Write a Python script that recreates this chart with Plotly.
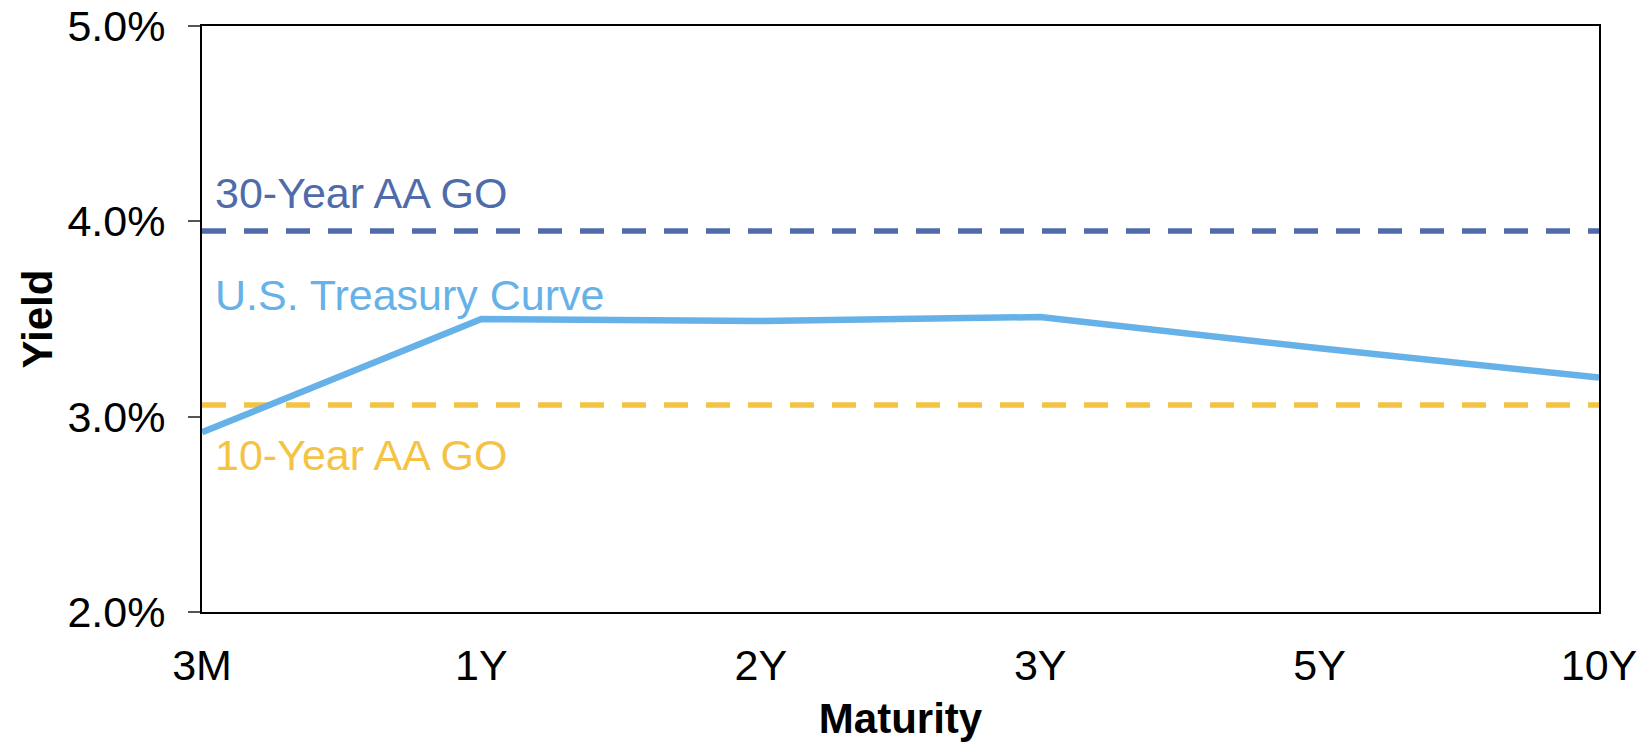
import plotly.graph_objects as go

# Maturity buckets and yields (%)
maturities = ["3M", "1Y", "2Y", "3Y", "5Y", "10Y"]
treasury_yields = [2.92, 3.50, 3.49, 3.51, 3.35, 3.20]
go_30yr_aa = 3.95
go_10yr_aa = 3.06

y_ticks = [2.0, 3.0, 4.0, 5.0]
y_tick_labels = ["2.0%", "3.0%", "4.0%", "5.0%"]

FONT = "Liberation Sans, Arial, sans-serif"
DARK_BLUE = "#4F6BAA"
LIGHT_BLUE = "#66B2E8"
GOLD = "#F5C343"

fig = go.Figure()

fig.add_trace(go.Scatter(
    x=maturities, y=[go_30yr_aa] * len(maturities), mode="lines",
    line=dict(color=DARK_BLUE, width=5.5, dash="24px,18px"),
    name="30-Year AA GO", hoverinfo="skip",
))
fig.add_trace(go.Scatter(
    x=maturities, y=[go_10yr_aa] * len(maturities), mode="lines",
    line=dict(color=GOLD, width=5.5, dash="24px,18px"),
    name="10-Year AA GO", hoverinfo="skip",
))
fig.add_trace(go.Scatter(
    x=maturities, y=treasury_yields, mode="lines",
    line=dict(color=LIGHT_BLUE, width=6.5),
    name="U.S. Treasury Curve",
))

labels = [
    ("30-Year AA GO", 4.145, DARK_BLUE),
    ("U.S. Treasury Curve", 3.622, LIGHT_BLUE),
    ("10-Year AA GO", 2.802, GOLD),
]
for text, yv, color in labels:
    fig.add_annotation(
        x=0.008, xref="paper", y=yv, yref="y", text=text,
        showarrow=False, xanchor="left", yanchor="middle",
        font=dict(family=FONT, size=43, color=color),
    )

fig.update_layout(
    width=1644, height=744,
    margin=dict(l=202, r=45, t=26, b=132),
    paper_bgcolor="white", plot_bgcolor="white",
    showlegend=False,
    font=dict(family=FONT, size=43, color="black"),
)

fig.update_xaxes(
    type="category", range=[0, len(maturities) - 1], automargin=False,
    showline=True, linecolor="black", linewidth=2, mirror=True,
    showgrid=False, zeroline=False, ticks="",
    tickfont=dict(family=FONT, size=43, color="black"),
    ticklabelstandoff=14,
    title=dict(text="<b>Maturity</b>", font=dict(family=FONT, size=42), standoff=16),
)
fig.update_yaxes(
    range=[2.0, 5.0], tickvals=y_ticks, ticktext=y_tick_labels, automargin=False,
    showline=True, linecolor="black", linewidth=2, mirror=True,
    showgrid=False, zeroline=False,
    ticks="outside", ticklen=12, tickwidth=1.5, tickcolor="#555555",
    tickfont=dict(family=FONT, size=43, color="black"),
    ticklabelstandoff=14,
    title=dict(text="<b>Yield</b>", font=dict(family=FONT, size=42), standoff=2),
)

fig.write_html("out.html")
